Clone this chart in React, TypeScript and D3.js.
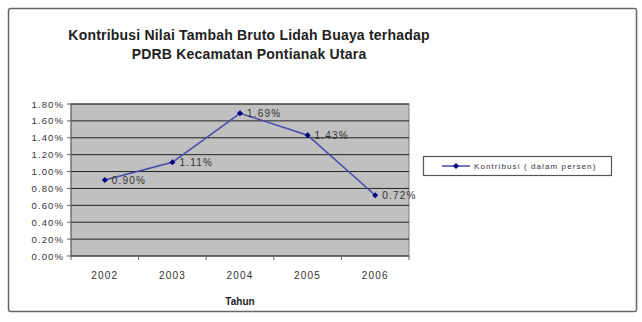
import React from "react";
import * as d3 from "d3";

const years = ["2002", "2003", "2004", "2005", "2006"];
const values = [0.9, 1.11, 1.69, 1.43, 0.72];
const yTicks = [0, 0.2, 0.4, 0.6, 0.8, 1.0, 1.2, 1.4, 1.6, 1.8];
const titleLines = ["Kontribusi Nilai Tambah Bruto Lidah Buaya terhadap", "PDRB Kecamatan Pontianak Utara"];
const xTitle = "Tahun";
const legendLabel = "Kontribusi ( dalam persen)";

export default function App() {
  const W = 642, H = 322;
  const left = 71, right = 409, top = 104, bottom = 256;
  const x = d3.scaleBand<string>().domain(years).range([left, right]);
  const y = d3.scaleLinear().domain([0, 1.8]).range([bottom, top]);
  const cx = (d: string) => (x(d) as number) + x.bandwidth() / 2;
  const line = d3.line<number>().x((_, i) => cx(years[i])).y((v) => y(v));
  const font = "'Liberation Sans', Arial, sans-serif";
  const diamond = (px: number, py: number, r = 3) =>
    `M${px},${py - r}L${px + r},${py}L${px},${py + r}L${px - r},${py}Z`;
  const boundaries = x.domain().map((d) => x(d) as number).concat([right]);
  return (
    <svg width={W} height={H} style={{ position: "absolute", left: 0, top: 0, background: "#fff" }} fontFamily={font}>
      <rect x={8.5} y={8.5} width={628} height={303} fill="#fff" stroke="#666" strokeWidth={1.5} rx={2} />
      {titleLines.map((t, i) => (
        <text key={i} x={249} y={40 + i * 19} textAnchor="middle" fontSize={14} fontWeight="bold" fill="#222" letterSpacing={0.2}>
          {t}
        </text>
      ))}
      <rect x={left} y={top} width={right - left} height={bottom - top} fill="#c0c0c0" stroke="#808080" />
      {yTicks.map((t) => (
        <g key={t}>
          <line x1={left} x2={right} y1={y(t)} y2={y(t)} stroke="#222" strokeWidth={1} />
          <line x1={left - 4} x2={left} y1={y(t)} y2={y(t)} stroke="#666" />
          <text x={left - 7} y={y(t) + 3.5} textAnchor="end" fontSize={9.5} fill="#333" letterSpacing={1.1}>
            {t.toFixed(2) + "%"}
          </text>
        </g>
      ))}
      <line x1={left} x2={left} y1={top} y2={bottom} stroke="#666" />
      {boundaries.map((b, i) => (
        <line key={i} x1={b} x2={b} y1={bottom} y2={bottom + 4} stroke="#666" />
      ))}
      {years.map((yr) => (
        <text key={yr} x={cx(yr)} y={279} textAnchor="middle" fontSize={10} fill="#333" letterSpacing={1.2}>
          {yr}
        </text>
      ))}
      <text x={240} y={305} textAnchor="middle" fontSize={10} fontWeight="bold" fill="#222">
        {xTitle}
      </text>
      <path d={line(values) || ""} fill="none" stroke="#4848a8" strokeWidth={1.5} />
      {values.map((v, i) => (
        <g key={i}>
          <path d={diamond(cx(years[i]), y(v))} fill="#000080" />
          <text x={cx(years[i]) + 7} y={y(v) + 4} fontSize={10} fill="#333" letterSpacing={1.2}>
            {v.toFixed(2) + "%"}
          </text>
        </g>
      ))}
      <rect x={423.5} y={156.5} width={188} height={19} fill="#fff" stroke="#555" strokeWidth={1.2} />
      <line x1={442} x2={470} y1={166} y2={166} stroke="#4848a8" strokeWidth={1.5} />
      <path d={diamond(456, 166)} fill="#000080" />
      <text x={474} y={169} fontSize={8} fill="#333" letterSpacing={1.1}>
        {legendLabel}
      </text>
    </svg>
  );
}
